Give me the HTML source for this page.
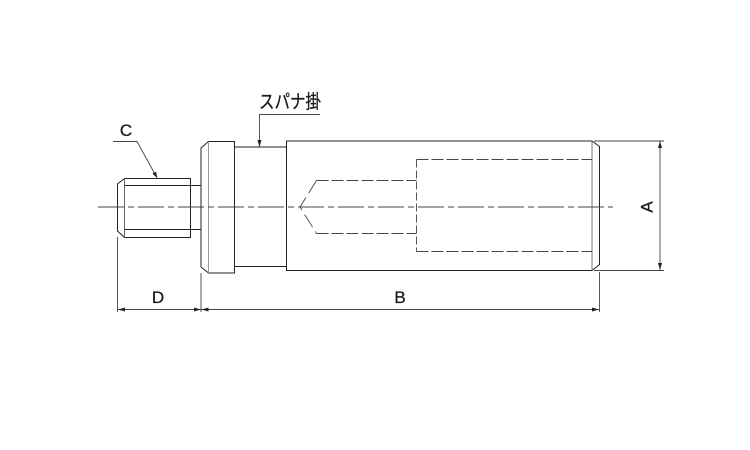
<!DOCTYPE html>
<html><head><meta charset="utf-8"><style>
html,body{margin:0;padding:0;background:#fff;width:750px;height:450px;overflow:hidden}
svg{display:block}
text{font-family:"Liberation Sans","Noto Sans CJK JP",sans-serif;fill:#1a1a1a}
</style></head><body>
<svg width="750" height="450" viewBox="0 0 750 450" xmlns="http://www.w3.org/2000/svg">
<rect width="750" height="450" fill="#fff"/>
<g fill="none" stroke="#222" stroke-width="1">
<!-- thread -->
<path d="M117.5 184L124.5 178.5H190.5V237.5H124.5L117.5 231Z"/>
<path d="M124.5 178.5V237.5" stroke="#666"/>
<path d="M124.5 185.5H201M124.5 229.5H201" stroke-width="0.9"/>
<!-- flange -->
<path d="M201 148L208.5 141.5H234.5V273H208.5L201 267Z"/>
<path d="M208.5 141.5V273" stroke="#999"/>
<!-- neck -->
<path d="M234.5 147H286.5M234.5 266.5H286.5"/>
<!-- body -->
<path d="M286.5 141H592L599.5 146.5V264.5L592 270.5H286.5Z"/>
<path d="M592 141V270.5" stroke="#777"/>
</g>
<!-- hidden lines -->
<g fill="none" stroke="#444" stroke-width="0.9" stroke-dasharray="12 3">
<path d="M416.5 159.5H592"/>
<path d="M416.5 251.5H592"/>
<path d="M416.5 159.5V251.5" stroke-dasharray="8 3"/>
<path d="M316.5 180.5H416.5"/>
<path d="M316.5 233.5H416.5"/>
<path d="M316.5 180.5L300 207L316.5 233.5" stroke-dasharray="15 5"/>
</g>
<!-- centre line -->
<path d="M98 207H613" fill="none" stroke="#444" stroke-width="0.9" stroke-dasharray="26 4 6 4"/>
<!-- dimension lines -->
<g fill="none" stroke="#444" stroke-width="0.9">
<path d="M117.5 237V312M201 273V312M599.5 272V312"/>
<path d="M118 309.5H599"/>
<path d="M594 141H664M594 270.5H664"/>
<path d="M660 141V270"/>
<path d="M113 141.5H137L156 176"/>
<path d="M320 114.5H259.500V147"/>
</g>
<g fill="#222" stroke="none">
<path d="M118 309.5l7-2v4z"/>
<path d="M201 309.5l-7-2v4z"/>
<path d="M201.500 309.500l7-2v4z"/>
<path d="M599 309.500l-7-2v4z"/>
<path d="M660 141l-2 7h4z"/>
<path d="M660 270l-2-7h4z"/>
<path d="M157.500 178.500l-5-5 3.500-1.800z"/>
<path d="M259.500 147l-2-7h4z"/>
</g>
<g stroke="#1a1a1a" stroke-width="0.3">
<text x="126" y="136" font-size="17" text-anchor="middle">C</text>
<text x="158" y="303" font-size="17" text-anchor="middle">D</text>
<text x="400" y="303" font-size="17" text-anchor="middle">B</text>
<text x="0" y="0" font-size="17" text-anchor="middle" transform="translate(652.500 207) rotate(-90)">A</text>
<text x="259" y="108" font-size="19" textLength="62" lengthAdjust="spacingAndGlyphs">スパナ掛</text>
</g>
</svg>
</body></html>
